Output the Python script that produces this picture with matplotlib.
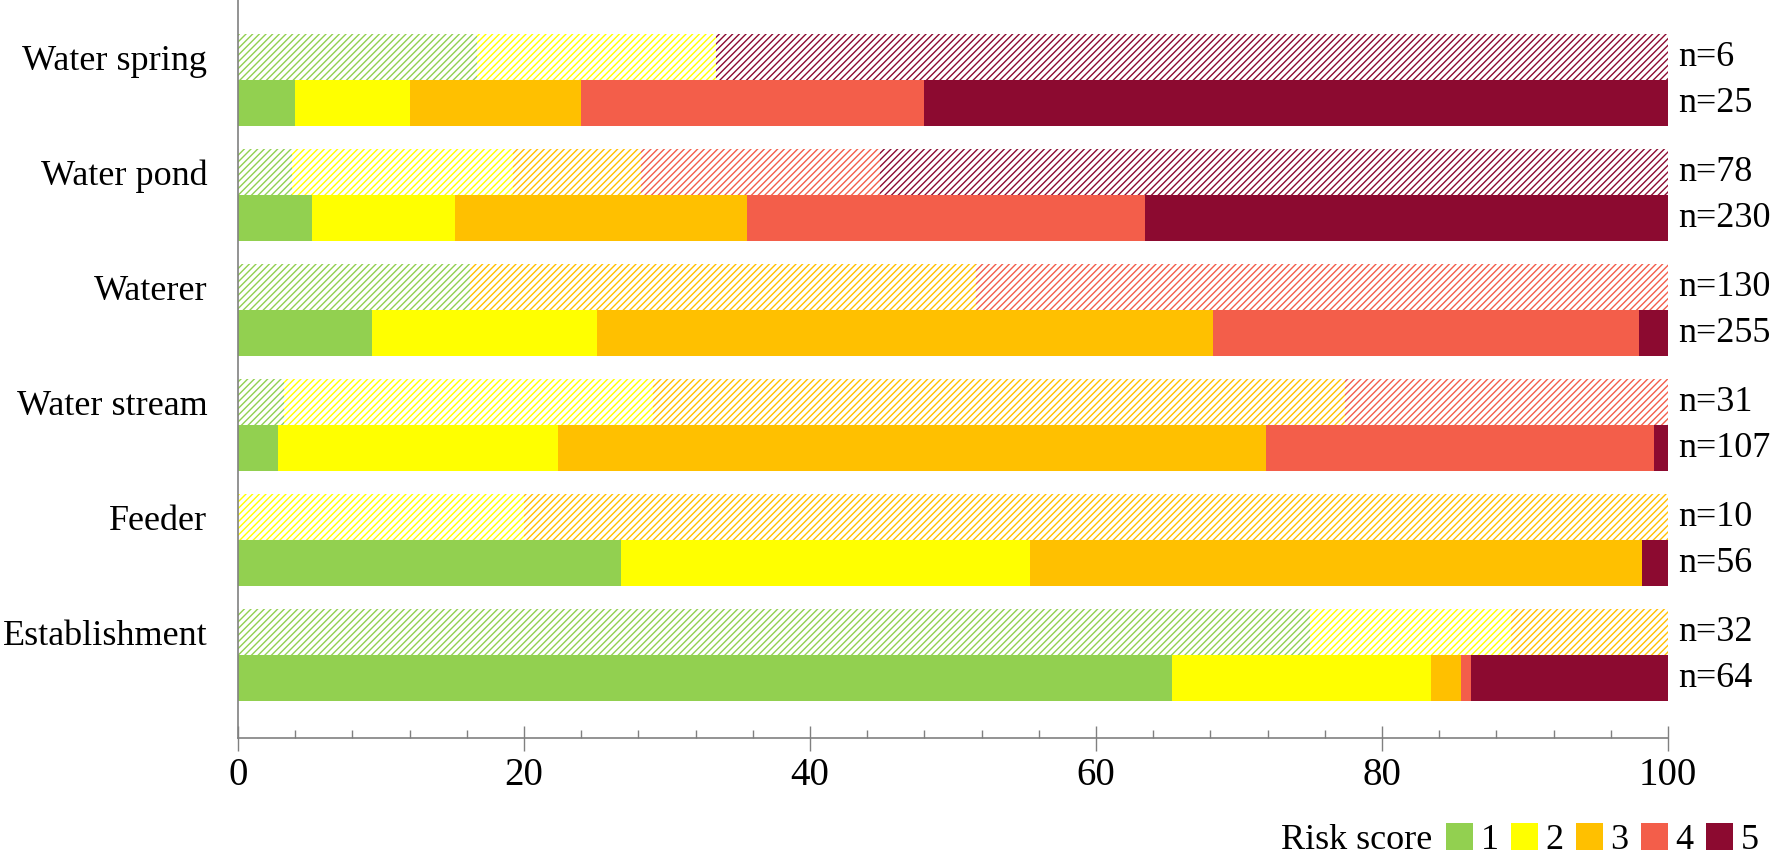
import numpy as np
import matplotlib
matplotlib.use("Agg")
import matplotlib.pyplot as plt
from matplotlib.patches import Patch
from matplotlib.ticker import MultipleLocator

# =========================
# Data (percent of observations per risk score)
# =========================
categories = ["Water spring", "Water pond", "Waterer", "Water stream", "Feeder", "Establishment"]

# hatched (upper) bars
top_1 = [16.7, 3.8, 16.2, 3.2, 0.0, 75.0]
top_2 = [16.7, 15.4, 0.0, 25.8, 20.0, 14.0]
top_3 = [0.0, 9.0, 35.4, 48.4, 80.0, 11.0]
top_4 = [0.0, 16.7, 48.4, 22.6, 0.0, 0.0]
top_5 = [66.6, 55.1, 0.0, 0.0, 0.0, 0.0]
top_n = [6, 78, 130, 31, 10, 32]

# solid (lower) bars
bot_1 = [4.0, 5.2, 9.4, 2.8, 26.8, 65.3]
bot_2 = [8.0, 10.0, 15.7, 19.6, 28.6, 18.1]
bot_3 = [12.0, 20.4, 43.1, 49.5, 42.8, 2.1]
bot_4 = [24.0, 27.8, 29.8, 27.1, 0.0, 0.7]
bot_5 = [52.0, 36.6, 2.0, 1.0, 1.8, 13.8]
bot_n = [25, 230, 255, 107, 56, 64]

score_labels = ["1", "2", "3", "4", "5"]
colors = ["#92D050", "#FFFF00", "#FFC000", "#F35E4A", "#8C0A30"]

# =========================
# Figure
# =========================
plt.rcParams["font.family"] = ["Liberation Serif", "DejaVu Serif"]
plt.rcParams["hatch.linewidth"] = 1.0

fig = plt.figure(figsize=(17.71, 8.55), dpi=100)
ax = fig.add_axes([0.1344, 0.1368, 0.8074, 0.8632])

y = np.arange(len(categories))
bar_h = 0.4
top_series = [top_1, top_2, top_3, top_4, top_5]
bot_series = [bot_1, bot_2, bot_3, bot_4, bot_5]

left = np.zeros(len(categories))
for vals, c in zip(top_series, colors):
    ax.barh(y, vals, left=left, height=bar_h, color="white",
            edgecolor=c, hatch="/////", linewidth=0)
    left += np.array(vals)

left = np.zeros(len(categories))
for vals, c in zip(bot_series, colors):
    ax.barh(y + bar_h, vals, left=left, height=bar_h, color=c, linewidth=0)
    left += np.array(vals)

# n labels
for i in range(len(categories)):
    ax.text(100.7, y[i], f"n={top_n[i]}", va="center", ha="left", fontsize=26)
    ax.text(100.7, y[i] + bar_h, f"n={bot_n[i]}", va="center", ha="left", fontsize=26)

ax.set_xlim(0, 100)
ax.set_ylim(5.92, -0.496)
ax.set_yticks(y)
ax.set_yticklabels(categories, fontsize=26)
ax.tick_params(axis="y", length=0, pad=22)

ax.xaxis.set_major_locator(MultipleLocator(20))
ax.xaxis.set_minor_locator(MultipleLocator(4))
ax.tick_params(axis="x", which="major", direction="inout", length=18,
               width=1, color="#808080", labelsize=28, pad=5)
ax.tick_params(axis="x", which="minor", direction="in", length=6,
               width=1, color="#808080")

for s in ["top", "right"]:
    ax.spines[s].set_visible(False)
for s in ["left", "bottom"]:
    ax.spines[s].set_color("#808080")
    ax.spines[s].set_linewidth(1.2)

# Legend
handles = [Patch(facecolor=c, edgecolor="none") for c in colors]
leg = fig.legend(handles, score_labels, ncol=5, loc="center right",
                 bbox_to_anchor=(0.993, 0.0175), frameon=False, fontsize=26,
                 handlelength=0.75, handleheight=0.75, handletextpad=0.2,
                 columnspacing=0.35, borderpad=0, borderaxespad=0)
fig.canvas.draw()
bb = leg.get_window_extent()
fig.text((bb.x0 - 14) / fig.bbox.width, 0.0175, "Risk score",
         ha="right", va="center", fontsize=26)

fig.savefig("out.png", dpi=100)
